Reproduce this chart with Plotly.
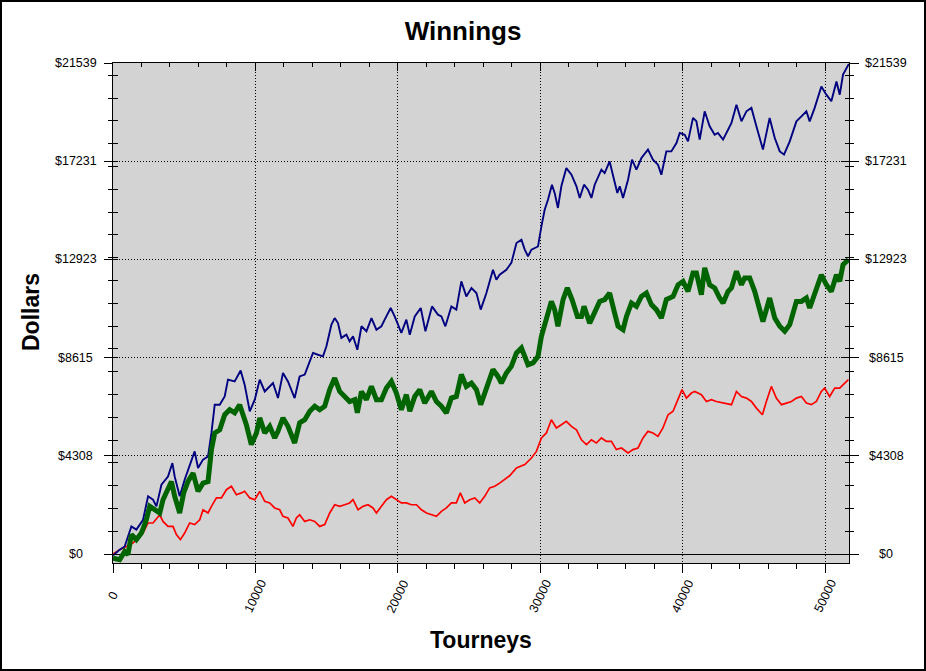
import plotly.graph_objects as go

# ---------------- data ----------------
tourney_ticks = [0, 10000, 20000, 30000, 40000, 50000]
tourney_minor = [2000, 4000, 6000, 8000, 12000, 14000, 16000, 18000, 22000, 24000,
                 26000, 28000, 32000, 34000, 36000, 38000, 42000, 44000, 46000, 48000]
dollar_ticks = [0, 4308, 8615, 12923, 17231, 21539]
dollar_minor = [1000, 2000, 3000, 4000, 5000, 6000, 7000, 8000, 9000, 10000,
                11000, 12000, 13000, 14000, 15000, 16000, 17000, 18000, 19000, 20000, 21000]

blue_x = [0, 470, 820, 1290, 1640, 2110, 2460, 2810, 3050, 3400,
          3860, 4170, 4330, 4680, 5030, 5500, 5730, 5970, 6320, 6670,
          6910, 7140, 7490, 7840, 8070, 8540, 8960, 9240, 9600, 9950,
          10300, 10650, 11000, 11230, 11580, 11930, 12280, 12750, 13100, 13460,
          13810, 14040, 14390, 14740, 14980, 15330, 15560, 15790, 16030, 16380,
          16610, 16850, 17150, 17440, 17790, 18140, 18490, 18840, 19070, 19490,
          19770, 20240, 20590, 20830, 21180, 21600, 21930, 22390, 22810, 23050,
          23330, 23750, 24100, 24450, 24800, 25160, 25510, 25810, 26210, 26670,
          26910, 27140, 27610, 27960, 28320, 28670, 28900, 29130, 29370, 29830,
          30070, 30300, 30530, 30810, 31000, 31230, 31470, 31820, 32180, 32530,
          32760, 33060, 33340, 33580, 33810, 34280, 34510, 34860, 35170, 35400,
          35570, 35800, 36150, 36430, 36740, 37090, 37550, 37900, 38250, 38490,
          38840, 39190, 39550, 39780, 40130, 40360, 40710, 40950, 41180, 41530,
          41880, 42230, 42460, 42820, 43170, 43410, 43760, 44110, 44460, 44810,
          45160, 45620, 46090, 46450, 46800, 47100, 47500, 47970, 48320, 48670,
          48900, 49250, 49720, 50070, 50420, 50780, 51010, 51240, 51650]
blue_y = [-70, 190, 330, 1210, 1070, 1500, 2530, 2380, 2090, 3040,
          3400, 3990, 3400, 2530, 3260, 4140, 4500, 3770, 4140, 4280,
          5310, 6550, 6550, 6910, 7650, 7570, 8050, 7430, 6260, 6770,
          7650, 7130, 7350, 7500, 6840, 7940, 7570, 6840, 7790, 7870,
          8450, 8820, 8740, 8670, 9110, 10060, 10350, 10130, 9480, 9620,
          9330, 9550, 8960, 9990, 9770, 10350, 9840, 9990, 10280, 10790,
          10420, 9700, 10280, 9620, 10420, 10790, 9770, 10860, 10500, 10420,
          9990, 10860, 10720, 11960, 11300, 11670, 11450, 10720, 11450, 12470,
          12030, 12250, 12470, 12770, 13640, 13790, 13350, 13060, 13350, 13490,
          14370, 15100, 15540, 16200, 15840, 15180, 16130, 16930, 16640, 16130,
          15620, 16200, 15980, 15620, 16200, 16860, 16710, 17220, 16420, 15840,
          16130, 15620, 16420, 17300, 16860, 17370, 17740, 17300, 17080, 16640,
          17660, 17660, 18030, 18470, 18390, 18100, 19130, 18980, 18180, 19420,
          18760, 18390, 18470, 18180, 18610, 18910, 19710, 18980, 19420, 19570,
          18760, 17740, 19130, 18250, 17660, 17520, 18100, 18980, 19200, 19420,
          18980, 19570, 20510, 20150, 19860, 20730, 20150, 21030, 21500]

green_x = [0, 470, 820, 1050, 1290, 1640, 1990, 2340, 2580, 2930,
           3280, 3510, 3860, 4100, 4330, 4680, 4960, 5260, 5620, 5970,
           6320, 6670, 6910, 7140, 7490, 7840, 8190, 8540, 8890, 9120,
           9360, 9710, 10070, 10300, 10650, 11000, 11350, 11580, 11930, 12280,
           12750, 13100, 13460, 13810, 14160, 14510, 14860, 15210, 15560, 15910,
           16260, 16610, 16970, 17150, 17440, 17790, 18140, 18490, 18840, 19190,
           19540, 19890, 20240, 20590, 20830, 21180, 21530, 21880, 22350, 22700,
           23050, 23400, 23750, 24100, 24450, 24800, 25160, 25510, 25810, 26210,
           26670, 27020, 27260, 27610, 27960, 28320, 28670, 28900, 29130, 29480,
           29830, 30070, 30420, 30770, 31000, 31230, 31590, 31890, 32220, 32600,
           32880, 33060, 33460, 33810, 34160, 34510, 34860, 35210, 35450, 35800,
           36040, 36390, 36740, 37090, 37440, 37790, 38140, 38490, 38840, 39310,
           39660, 40010, 40360, 40710, 40950, 41300, 41530, 41880, 42230, 42580,
           42820, 43170, 43410, 43760, 44110, 44340, 44690, 45040, 45390, 45620,
           46090, 46450, 46800, 47150, 47500, 47970, 48320, 48670, 48900, 49250,
           49720, 50070, 50420, 50780, 51010, 51240, 51620]
green_y = [-180, -250, 110, -30, 850, 630, 920, 1500, 2090, 1940,
           1800, 2380, 2820, 3180, 2530, 1800, 2680, 3180, 3550, 2750,
           3110, 3180, 4580, 5310, 5450, 6110, 6330, 6190, 6550, 6190,
           5670, 4800, 5310, 5970, 5310, 5600, 5090, 5380, 5970, 5600,
           4870, 5750, 5890, 6260, 6480, 6330, 6480, 7210, 7720, 7130,
           6910, 6690, 6770, 6190, 7130, 6770, 7350, 6770, 6770, 7280,
           7570, 7060, 6330, 6990, 6260, 6910, 7210, 6620, 7130, 6690,
           6480, 6190, 6840, 6910, 7870, 7350, 7500, 7210, 6550, 7210,
           8090, 7790, 7500, 7940, 8230, 8820, 9040, 8670, 8300, 8380,
           8670, 9550, 10420, 11080, 10720, 9990, 11160, 11670, 11160, 10420,
           10420, 10860, 10130, 10570, 11080, 11160, 11450, 10570, 9990, 9840,
           10420, 11010, 10860, 11300, 11450, 10940, 10720, 10350, 11160, 11300,
           11810, 11960, 11520, 12330, 12330, 11380, 12550, 11810, 11670, 11230,
           11010, 11520, 11670, 12400, 11810, 12110, 12110, 11520, 10640, 10200,
           11230, 10350, 9990, 9770, 10060, 11080, 11080, 11230, 10790, 11380,
           12250, 11810, 11520, 12250, 11960, 12690, 12910]

red_x = [0, 470, 940, 1400, 1750, 2110, 2460, 2810, 3280, 3510,
         3860, 4210, 4450, 4730, 5030, 5380, 5730, 6090, 6320, 6670,
         6910, 7260, 7610, 7960, 8310, 8660, 9010, 9240, 9600, 9950,
         10300, 10650, 11000, 11350, 11700, 11930, 12280, 12630, 12870, 13100,
         13460, 13810, 14160, 14510, 14860, 15210, 15560, 15910, 16260, 16610,
         16850, 17200, 17550, 17900, 18250, 18490, 18840, 19190, 19540, 19890,
         20240, 20590, 20940, 21300, 21650, 22000, 22350, 22700, 23050, 23400,
         23750, 24100, 24380, 24690, 25040, 25390, 25740, 26090, 26440, 26790,
         27140, 27840, 28320, 28900, 29370, 29720, 30070, 30420, 30770, 31120,
         31470, 31820, 32180, 32530, 32880, 33230, 33580, 33930, 34280, 34630,
         34980, 35330, 35690, 36150, 36500, 36850, 37200, 37550, 37900, 38250,
         38600, 38960, 39310, 39660, 39940, 40250, 40600, 40830, 41300, 41650,
         42000, 42350, 42820, 43410, 43760, 44110, 44460, 44810, 45160, 45580,
         45860, 46210, 46560, 46920, 47270, 47620, 47970, 48320, 48670, 49020,
         49370, 49720, 49950, 50300, 50660, 51010, 51360, 51620]
red_y = [0, 190, 330, 480, 700, 920, 1360, 1360, 1720, 1430,
         1210, 1210, 850, 630, 920, 1360, 1290, 1500, 1940, 1800,
         2090, 2460, 2460, 2820, 2970, 2600, 2680, 2750, 2460, 2380,
         2750, 2310, 2240, 2020, 1940, 1650, 1580, 1210, 1580, 1720,
         1430, 1500, 1430, 1210, 1290, 1800, 2160, 2090, 2160, 2240,
         2380, 1940, 2090, 2160, 2020, 1800, 2090, 2380, 2530, 2380,
         2240, 2240, 2160, 2160, 1940, 1800, 1720, 1650, 1870, 2020,
         2240, 2240, 2680, 2240, 2380, 2460, 2240, 2530, 2900, 2970,
         3110, 3430, 3770, 3920, 4210, 4500, 5090, 5310, 5890, 5530,
         5670, 5820, 5600, 5450, 5010, 4800, 5010, 4870, 5090, 4940,
         4940, 4580, 4650, 4430, 4580, 4650, 5090, 5380, 5310, 5160,
         5530, 6110, 6260, 6770, 7210, 6840, 7060, 7130, 6990, 6690,
         6770, 6690, 6620, 6550, 7130, 6910, 6840, 6690, 6400, 6110,
         6690, 7350, 6840, 6550, 6620, 6690, 6840, 6910, 6620, 6550,
         6690, 7130, 7280, 6910, 7280, 7280, 7500, 7650]

# ---------------- styling ----------------
FONT = "Liberation Sans, Arial, sans-serif"
X_RANGE = [0, 51660]
Y_RANGE = [-395, 21539]
W, H = 926, 671
ML, MR, MT, MB = 113, 77, 63, 108
PW, PH = W - ML - MR, H - MT - MB
DOT = "1px,2px"


def px_x(p):
    return (p - ML) / PW


def px_y(p):
    return (H - MB - p) / PH


fig = go.Figure()
fig.add_trace(go.Scatter(x=red_x, y=red_y, mode="lines",
                         line=dict(color="#FF0000", width=1.7), hoverinfo="skip"))
fig.add_trace(go.Scatter(x=blue_x, y=blue_y, mode="lines",
                         line=dict(color="#000080", width=1.9), hoverinfo="skip"))
fig.add_trace(go.Scatter(x=green_x, y=green_y, mode="lines",
                         line=dict(color="#006400", width=5), hoverinfo="skip"))
# empty traces so the overlay axes (tick marks only) get drawn
for xa, ya in [("x2", "y"), ("x", "y2"), ("x", "y3"), ("x", "y4")]:
    fig.add_trace(go.Scatter(x=[], y=[], xaxis=xa, yaxis=ya, showlegend=False,
                             hoverinfo="skip"))


def tick_axis(**kw):
    d = dict(showgrid=False, zeroline=False, showline=False, showticklabels=False,
             tickcolor="black", tickwidth=1, tickmode="array")
    d.update(kw)
    return d


fig.update_layout(
    template="none",
    width=W, height=H,
    margin=dict(l=ML, r=MR, t=MT, b=MB, pad=0),
    paper_bgcolor="white",
    plot_bgcolor="#D3D3D3",
    showlegend=False,
    hovermode=False,
    font=dict(family=FONT, color="black"),
    title=dict(text="<b>Winnings</b>", x=0.5, xref="container", xanchor="center",
               y=1 - 31 / H, yref="container", yanchor="middle",
               font=dict(family=FONT, size=26, color="black")),
    xaxis=dict(range=X_RANGE, showline=True, mirror=True, linecolor="black", linewidth=1,
               ticks="outside", tickmode="array", tickvals=tourney_ticks, ticklen=9,
               tickcolor="black", tickwidth=1, showticklabels=False,
               showgrid=True, gridcolor="black", gridwidth=1, griddash=DOT,
               zeroline=False,
               minor=dict(tickmode="array", tickvals=tourney_minor, ticks="outside",
                          ticklen=5, tickcolor="black", tickwidth=1, showgrid=False)),
    xaxis2=tick_axis(range=X_RANGE, overlaying="x", side="top", anchor="y",
                     ticks="inside", tickvals=tourney_ticks, ticklen=8,
                     minor=dict(tickmode="array", tickvals=tourney_minor, ticks="inside",
                                ticklen=4, tickcolor="black", tickwidth=1, showgrid=False)),
    yaxis=dict(range=Y_RANGE, showline=True, mirror=True, linecolor="black", linewidth=1,
               ticks="outside", tickmode="array", tickvals=dollar_ticks, ticklen=8,
               tickcolor="black", tickwidth=1, showticklabels=False,
               showgrid=True, gridcolor="black", gridwidth=1, griddash=DOT,
               zeroline=True, zerolinecolor="black", zerolinewidth=1,
               minor=dict(tickmode="array", tickvals=dollar_minor, ticks="outside",
                          ticklen=4, tickcolor="black", tickwidth=1, showgrid=False)),
    yaxis3=tick_axis(range=Y_RANGE, overlaying="y", side="left", anchor="x",
                     ticks="inside", tickvals=dollar_ticks, ticklen=5,
                     minor=dict(tickmode="array", tickvals=dollar_minor, ticks="inside",
                                ticklen=5, tickcolor="black", tickwidth=1, showgrid=False)),
    yaxis2=tick_axis(range=Y_RANGE, overlaying="y", side="right", anchor="x",
                     ticks="outside", tickvals=dollar_ticks, ticklen=9,
                     minor=dict(tickmode="array", tickvals=dollar_minor, ticks="outside",
                                ticklen=4, tickcolor="black", tickwidth=1, showgrid=False)),
    yaxis4=tick_axis(range=Y_RANGE, overlaying="y", side="right", anchor="x",
                     ticks="inside", tickvals=dollar_ticks, ticklen=8,
                     minor=dict(tickmode="array", tickvals=dollar_minor, ticks="inside",
                                ticklen=4, tickcolor="black", tickwidth=1, showgrid=False)),
)

ann = []
lab_font = dict(family=FONT, size=12.5, color="black")
for v in dollar_ticks:
    for xc in (75.5, 886):
        ann.append(dict(text="$" + str(v), xref="paper", x=px_x(xc), yref="y", y=v,
                        xanchor="center", yanchor="middle", showarrow=False, font=lab_font))
for t in tourney_ticks:
    ann.append(dict(text=str(t), xref="x", x=t, yref="paper", y=px_y(596),
                    xanchor="center", yanchor="middle", textangle=-64,
                    showarrow=False, font=lab_font))
ann.append(dict(text="<b>Tourneys</b>", xref="paper", x=0.5, yref="paper", y=px_y(640),
                xanchor="center", yanchor="middle", showarrow=False,
                font=dict(family=FONT, size=23, color="black")))
ann.append(dict(text="<b>Dollars</b>", xref="paper", x=px_x(31), yref="paper", y=px_y(312),
                xanchor="center", yanchor="middle", textangle=-90, showarrow=False,
                font=dict(family=FONT, size=23, color="black")))
fig.update_layout(annotations=ann)

# outer frame of the picture
fig.add_shape(type="rect", xref="paper", yref="paper",
              x0=px_x(1), x1=px_x(925), y0=px_y(670), y1=px_y(1),
              line=dict(color="black", width=2), fillcolor="rgba(0,0,0,0)", layer="above")

fig.write_html("out.html", config={"displayModeBar": False, "staticPlot": True},
               post_script="document.body.style.margin='0';document.body.style.padding='0';"
                           "document.documentElement.style.overflow='hidden';")
